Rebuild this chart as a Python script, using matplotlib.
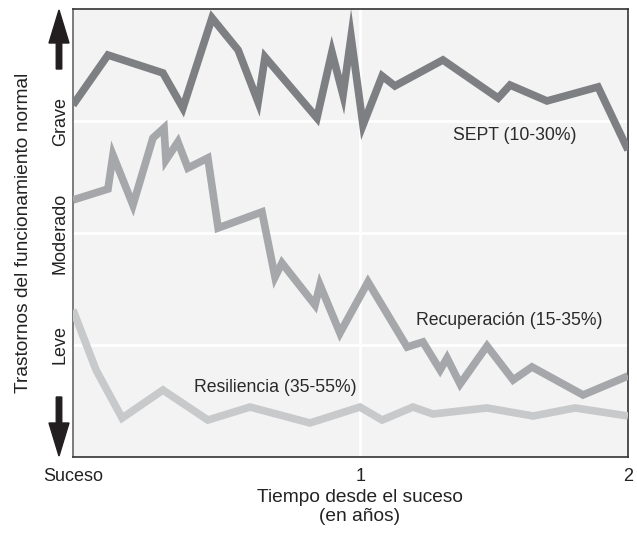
import matplotlib
matplotlib.use("Agg")
import matplotlib.pyplot as plt
from matplotlib import font_manager
from matplotlib.patches import FancyArrow

# ---------------- data ----------------
levels = [1, 2, 3]
level_labels = ["Leve", "Moderado", "Grave"]
x_tick_pos = [0, 1.035, 2]
x_tick_labels = ["Suceso", "1", "2"]

sept_x = [0.0, 0.126, 0.324, 0.396, 0.501, 0.595, 0.667, 0.692, 0.879, 0.933,
          0.973, 1.002, 1.045, 1.114, 1.160, 1.333, 1.532, 1.575, 1.708, 1.892, 2.0]
sept_y = [3.143, 3.589, 3.429, 3.116, 3.920, 3.634, 3.170, 3.571, 3.027, 3.616,
          3.232, 3.750, 2.964, 3.402, 3.313, 3.545, 3.205, 3.321, 3.179, 3.304, 2.741]

recup_x = [0.0, 0.126, 0.144, 0.216, 0.288, 0.328, 0.335, 0.378, 0.414, 0.486,
           0.523, 0.681, 0.728, 0.753, 0.872, 0.890, 0.962, 1.063, 1.204, 1.261,
           1.323, 1.348, 1.395, 1.492, 1.586, 1.654, 1.838, 2.0]
recup_y = [2.295, 2.393, 2.696, 2.250, 2.848, 2.938, 2.652, 2.813, 2.580, 2.670,
           2.045, 2.188, 1.607, 1.732, 1.357, 1.536, 1.107, 1.563, 0.982, 1.027,
           0.777, 0.884, 0.652, 0.991, 0.688, 0.804, 0.554, 0.723]

resil_x = [0.0, 0.083, 0.177, 0.324, 0.486, 0.638, 0.854, 1.034, 1.114, 1.225,
           1.297, 1.492, 1.658, 1.809, 2.0]
resil_y = [1.313, 0.777, 0.348, 0.598, 0.330, 0.446, 0.304, 0.446, 0.330, 0.446,
           0.384, 0.438, 0.366, 0.438, 0.366]

series_labels = ["SEPT (10-30%)", "Recuperación (15-35%)", "Resiliencia (35-55%)"]
label_pos = [(1.593, 2.875), (1.571, 1.223), (0.728, 0.625)]

# ---------------- fonts ----------------
names = {f.name for f in font_manager.fontManager.ttflist}
if "Liberation Sans Narrow" in names:
    narrow, title_size = "Liberation Sans Narrow", 16.5
else:
    narrow, title_size = "Liberation Sans", 13.8
regular = "Liberation Sans"

# ---------------- figure ----------------
fig = plt.figure(figsize=(6.37, 5.43), dpi=100)
ax = fig.add_axes([73 / 637, (543 - 457) / 543, 555 / 637, 448 / 543])
ax.set_facecolor("#f3f3f3")
ax.set_xlim(0, 2)
ax.set_ylim(0, 4)

for y in levels:
    ax.axhline(y, color="white", lw=2.0, zorder=1)
ax.axvline(x_tick_pos[1], color="white", lw=2.0, zorder=1)

colors = ["#7e7f83", "#a6a7aa", "#c8c9cb"]
for xs, ys, c in [(sept_x, sept_y, colors[0]), (recup_x, recup_y, colors[1]),
                  (resil_x, resil_y, colors[2])]:
    ax.plot(xs, ys, color=c, lw=5.5, solid_joinstyle="miter",
            solid_capstyle="butt", zorder=3)

for (tx, ty), lab in zip(label_pos, series_labels):
    ax.text(tx, ty, lab, ha="center", va="center", fontsize=12.7,
            family=[regular, "DejaVu Sans"], color="#2a2a2a", zorder=4)

ax.set_yticks(levels)
ax.set_yticklabels(level_labels, rotation=90, va="center",
                   family=[regular, "DejaVu Sans"], fontsize=13, color="#222222")
ax.set_xticks(x_tick_pos)
ax.set_xticklabels(x_tick_labels, family=[regular, "DejaVu Sans"],
                   fontsize=13, color="#222222")
ax.tick_params(axis="both", length=0)
ax.tick_params(axis="y", pad=3)
ax.tick_params(axis="x", pad=8)

for side, col in [("left", "#666666"), ("bottom", "#333333"), ("top", "#333333"),
                  ("right", "#333333")]:
    ax.spines[side].set_color(col)
    ax.spines[side].set_linewidth(1.2)

fig.text(24 / 637, (543 - 233) / 543, "Trastornos del funcionamiento normal",
         rotation=90, ha="center", va="center", fontsize=title_size,
         family=[narrow, "DejaVu Sans"], color="#222222")
fig.text(360 / 637, (543 - 507) / 543, "Tiempo desde el suceso\n(en años)",
         ha="center", va="center", fontsize=title_size, linespacing=1.2,
         family=[narrow, "DejaVu Sans"], color="#222222")

# direction arrows (outside the axes)
fig.add_artist(FancyArrow(0.59, (543 - 69) / 100, 0, 0.59, width=0.055,
                          head_width=0.20, head_length=0.33,
                          length_includes_head=True, color="#231f20",
                          transform=fig.dpi_scale_trans))
fig.add_artist(FancyArrow(0.59, (543 - 397) / 100, 0, -0.59, width=0.055,
                          head_width=0.20, head_length=0.33,
                          length_includes_head=True, color="#231f20",
                          transform=fig.dpi_scale_trans))

fig.savefig("out.png", dpi=100)
